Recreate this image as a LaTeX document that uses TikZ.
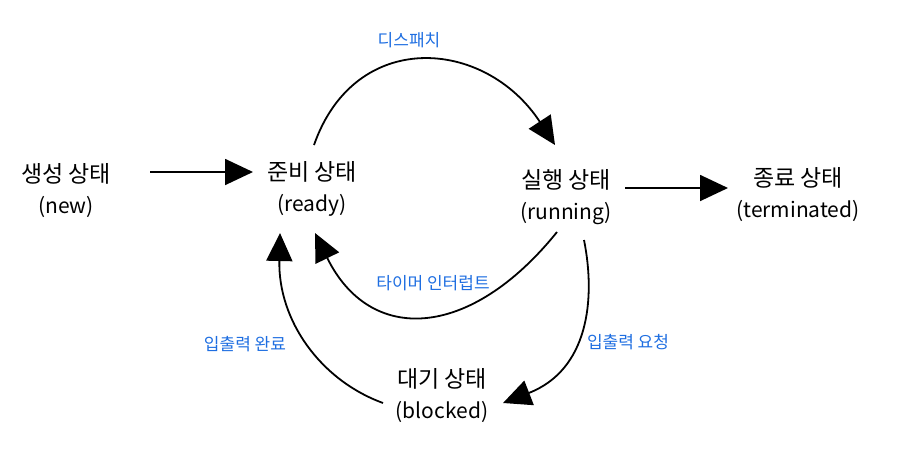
\documentclass[tikz,border=0pt]{standalone}
\usepackage{fontspec}
\setmainfont{Noto Sans CJK KR}
\usetikzlibrary{arrows.meta,calc}
\definecolor{lblue}{RGB}{30,110,225}
\newcommand{\kline}[1]{{\fontsize{23}{31}\selectfont #1}}
\begin{document}
\begin{tikzpicture}[x=1pt,y=-1pt,
  state/.style={align=center,font=\fontsize{21}{31}\selectfont,inner sep=0pt},
  lbl/.style={text=lblue,font=\fontsize{17}{20}\selectfont,inner sep=0pt},
  arr/.style={line width=1.8pt,-{Triangle[length=28pt,width=26pt]}}]
\useasboundingbox (0,0) rectangle (899,453);
\node[state] (new) at (66,191) {\kline{생성 상태}\\(new)};
\node[state] (ready) at (312,189) {\kline{준비 상태}\\(ready)};
\node[state] (run) at (566,197) {\kline{실행 상태}\\(running)};
\node[state] (term) at (798,195) {\kline{종료 상태}\\(terminated)};
\node[state] (blk) at (442,396) {\kline{대기 상태}\\(blocked)};

\draw[arr] ($(new.center)+(84,-19)$) -- ($(ready.center)+(-59,-17)$);
\draw[arr] ($(run.center)+(59,-9)$) -- ($(term.center)+(-70,-7)$);
\draw[arr] ($(ready.center)+(2,-44)$) .. controls (355,28) and (485,38) .. ($(run.center)+(-11,-52)$);
\draw[arr] ($(run.center)+(-9,35)$) .. controls (470,340) and (370,345) .. ($(ready.center)+(3,44)$);
\draw[arr] ($(run.center)+(18,43)$) .. controls (596,300) and (588,370) .. ($(blk.center)+(61,7)$);
\draw[arr] ($(blk.center)+(-59,7)$) .. controls (320,380) and (278,320) .. ($(ready.center)+(-32,44)$);

\node[lbl] (l1) at (409,40) {디스패치};
\node[lbl] (l2) at (433,283) {타이머 인터럽트};
\node[lbl] (l3) at (628,342) {입출력 요청};
\node[lbl] (l4) at (245,344) {입출력 완료};
\end{tikzpicture}
\end{document}
